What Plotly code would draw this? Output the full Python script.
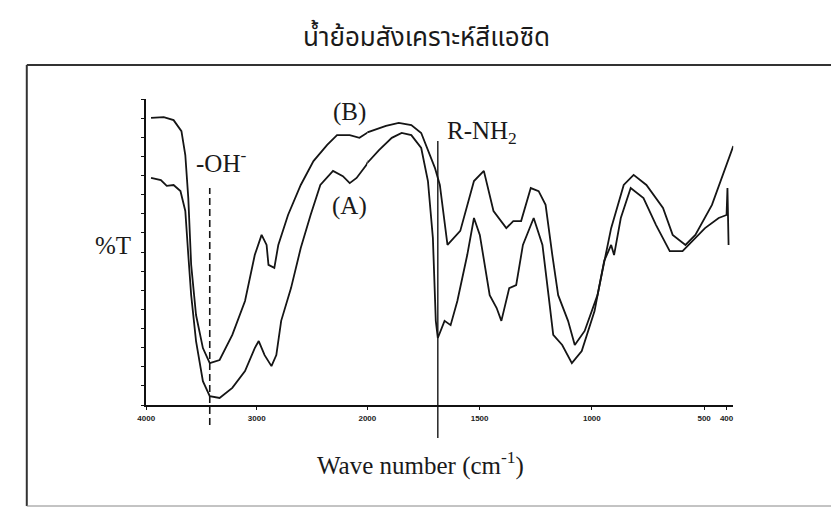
import plotly.graph_objects as go

# ---------------- data (wavenumber cm-1, %T) ----------------
b_wn = [3956, 3841, 3752, 3681, 3646, 3619, 3593, 3549, 3487, 3425, 3336, 3221, 3106, 3018,
        2956, 2911, 2894, 2841, 2805, 2717, 2602, 2487, 2363, 2274, 2159, 2071, 1978, 1917,
        1860, 1804, 1760, 1730, 1699, 1677, 1643, 1586, 1525, 1481, 1438, 1381, 1350, 1315,
        1272, 1237, 1206, 1176, 1150, 1106, 1076, 1032, 975, 914, 858, 814, 757, 683, 640,
        583, 539, 465, 409, 370]
b_t = [93.8, 94.1, 93.1, 89.5, 81.7, 67.6, 45.8, 29.4, 18.6, 13.7, 14.7, 22.9, 34.0, 49.0,
       55.6, 52.3, 45.8, 44.8, 52.3, 62.1, 71.9, 79.7, 85.0, 88.2, 88.2, 87.3, 89.5, 91.2,
       92.2, 91.5, 88.9, 83.0, 77.5, 71.9, 52.3, 56.9, 73.2, 76.5, 63.4, 57.8, 60.1, 60.1,
       70.9, 69.9, 65.4, 49.0, 35.9, 27.5, 19.6, 24.2, 35.9, 57.8, 71.9, 75.2, 71.9, 64.4, 55.6,
       52.3, 55.6, 65.4, 76.5, 84.6]

a_wn = [3956, 3867, 3814, 3752, 3690, 3646, 3619, 3593, 3549, 3487, 3425, 3336, 3221, 3106,
        3018, 2982, 2929, 2867, 2823, 2779, 2690, 2602, 2513, 2425, 2310, 2221, 2159, 2097,
        2009, 1948, 1891, 1847, 1804, 1760, 1730, 1708, 1695, 1686, 1656, 1629, 1599, 1555,
        1525, 1499, 1455, 1424, 1403, 1368, 1337, 1307, 1259, 1220, 1193, 1172, 1132, 1089,
        1045, 988, 945, 914, 901, 871, 827, 770, 714, 653, 596, 552, 496, 435, 400, 396, 391]
a_t = [74.2, 73.5, 71.6, 71.9, 69.9, 63.4, 49.0, 35.9, 20.9, 7.8, 2.9, 2.3, 5.6, 11.1,
       18.6, 20.9, 16.3, 12.7, 16.3, 27.5, 38.2, 51.3, 62.1, 71.9, 76.5, 74.8, 72.5, 74.2,
       78.4, 83.3, 87.3, 88.9, 88.2, 84.0, 73.2, 54.6, 27.5, 21.9, 27.5, 26.1, 34.0, 49.0,
       61.1, 55.6, 35.9, 31.7, 27.5, 38.2, 39.2, 52.3, 61.1, 52.3, 35.9, 22.9, 19.6, 13.7,
       17.6, 30.7, 47.1, 52.3, 49.0, 61.1, 70.9, 67.6, 58.8, 50.3, 50.3, 53.6, 57.8, 61.1, 62.1, 70.9, 52.3]

ticks_high = [4000, 3000, 2000]
ticks_low = [1500, 1000, 500, 400]
oh_wn = 3425      # -OH band marker
nh_wn = 1686      # R-NH2 band marker

W, H = 839, 507
def fx(px): return px / W
def fy(py): return 1 - py / H

def split(wn, t):
    hi = [i for i, w in enumerate(wn) if w >= 2000]
    lo = [i for i, w in enumerate(wn) if w <= 2000]
    hi_idx = hi + ([lo[0]] if lo and lo[0] not in hi else [])
    lo_idx = ([hi[-1]] if hi and hi[-1] not in lo else []) + lo
    return ([wn[i] for i in hi_idx], [t[i] for i in hi_idx],
            [wn[i] for i in lo_idx], [t[i] for i in lo_idx])

fig = go.Figure()
line = dict(color="#151515", width=1.8)
for name, wn, t in [("(B)", b_wn, b_t), ("(A)", a_wn, a_t)]:
    x1, y1, x2, y2 = split(wn, t)
    fig.add_trace(go.Scatter(x=x1, y=y1, mode="lines", line=line, xaxis="x", yaxis="y",
                             showlegend=False, name=name))
    fig.add_trace(go.Scatter(x=x2, y=y2, mode="lines", line=line, xaxis="x2", yaxis="y",
                             showlegend=False, name=name))

tickfont = dict(family="Arial", size=8, color="#222", weight="bold")
common_x = dict(showline=True, linecolor="#111", linewidth=1.5, ticks="outside", ticklen=3,
                tickcolor="#111", showgrid=False, zeroline=False, tickfont=tickfont,
                anchor="y", fixedrange=True, ticklabelstandoff=2)

fig.update_layout(
    width=W, height=H, margin=dict(l=0, r=0, t=0, b=0),
    paper_bgcolor="white", plot_bgcolor="white",
    xaxis=dict(domain=[fx(132), fx(358)], range=[4000, 2000], tickvals=ticks_high,
               ticktext=[str(v) for v in ticks_high], **common_x),
    xaxis2=dict(domain=[fx(358), fx(732)], range=[2000, 370], tickvals=ticks_low,
                ticktext=[str(v) for v in ticks_low], **common_x),
    yaxis=dict(domain=[fy(397), fy(91)], range=[0, 100], showline=True, linecolor="#111",
               linewidth=1.5, ticks="outside", ticklen=3, tickcolor="#111", dtick=6.25,
               showticklabels=False, showgrid=False, zeroline=False),
)

# frame around the figure (open on the right, as in the scan)
frame = dict(color="#333", width=2)
fig.add_shape(type="line", xref="paper", yref="paper", x0=fx(10), x1=1, y0=fy(57), y1=fy(57), line=frame)
fig.add_shape(type="line", xref="paper", yref="paper", x0=fx(10), x1=fx(10), y0=fy(57), y1=fy(498), line=frame)
fig.add_shape(type="line", xref="paper", yref="paper", x0=fx(10), x1=1, y0=fy(498), y1=fy(498),
              line=dict(color="#888", width=1))
# marker lines
fig.add_shape(type="line", xref="x", yref="paper", x0=oh_wn, x1=oh_wn, y0=fy(417), y1=fy(180),
              line=dict(color="#151515", width=1.6, dash="7px,4px"))
fig.add_shape(type="line", xref="x2", yref="paper", x0=nh_wn, x1=nh_wn, y0=fy(430), y1=fy(133),
              line=dict(color="#151515", width=1.4))

serif = dict(family="Liberation Serif, Times New Roman, serif", size=25, color="#1a1a1a")
def ann(text, px, py, xanchor="center", font=serif):
    fig.add_annotation(text=text, x=fx(px), y=fy(py), xref="paper", yref="paper",
                       showarrow=False, xanchor=xanchor, yanchor="middle", font=font)

ann("น้ำย้อมสังเคราะห์สีแอซิด", 418, 30,
    font=dict(family="Noto Sans Thai, Loma, Garuda, Sarabun, sans-serif", size=26, color="#1a1a1a"))
ann("(B)", 340, 104)
ann("(A)", 340, 198)
ann("-OH<sup>-</sup>", 181, 153, xanchor="left")
ann("R-NH<sub>2</sub>", 437, 124, xanchor="left")
ann("%T", 98, 238)
ann("Wave number (cm<sup>-1</sup>)", 412, 455)

fig.write_html("out.html")
